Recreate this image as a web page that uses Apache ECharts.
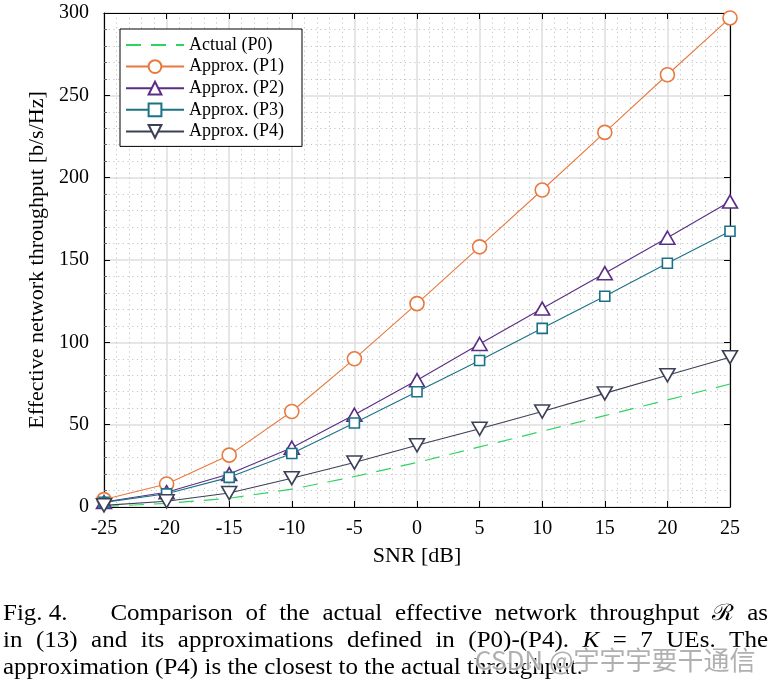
<!DOCTYPE html>
<html>
<head>
<meta charset="utf-8">
<script src="https://cdn.jsdelivr.net/npm/echarts@6/dist/echarts.min.js"></script>
<style>
html,body{margin:0;padding:0;background:#fff;}
#chart{width:773px;height:684px;}
</style>
</head>
<body>
<div id="chart"></div>
<script>
// ---- data ----
const snr = [-25, -20, -15, -10, -5, 0, 5, 10, 15, 20, 25];
const actualP0 = [0.3, 2.2, 5.3, 10.8, 18.5, 27, 36.5, 46, 55.5, 65, 74.7];
const approxP1 = [4.5, 14, 31.5, 58, 90, 123.5, 158, 192.5, 227.5, 262.5, 297];
const approxP2 = [3, 9, 20, 36, 56, 77, 99, 120.5, 142, 163.5, 185.5];
const approxP3 = [2.8, 8, 18, 32.5, 51, 70, 89, 108.5, 128, 148, 167.5];
const approxP4 = [1, 3.5, 8.5, 17.5, 27, 37.5, 47.5, 58, 69, 80, 91];
const seriesNames = ['Actual (P0)', 'Approx. (P1)', 'Approx. (P2)', 'Approx. (P3)', 'Approx. (P4)'];
const xTicks = [-25, -20, -15, -10, -5, 0, 5, 10, 15, 20, 25];
const yTicks = [0, 50, 100, 150, 200, 250, 300];
const xTitle = 'SNR [dB]';
const yTitle = 'Effective network throughput [b/s/Hz]';
const captionLines = [
  ['Fig. 4.', 'Comparison', 'of', 'the', 'actual', 'effective', 'network', 'throughput', '\u211B', 'as'],
  ['in', '(13)', 'and', 'its', 'approximations', 'defined', 'in', '(P0)-(P4).', 'K', '=', '7', 'UEs.', 'The'],
  ['approximation', '(P4)', 'is', 'the', 'closest', 'to', 'the', 'actual', 'throughput.']
];
const watermark = 'CSDN @宇宇宇要干通信';

// ---- chart ----
const FONT = '"Liberation Serif", "Times New Roman", serif';
const pair = (ys) => snr.map((x, i) => [x, ys[i]]);
const colors = ['#2fd35f', '#e8793f', '#5a2e85', '#1b7286', '#3b4056'];

const chart = echarts.init(document.getElementById('chart'), null, {renderer: 'canvas'});

// caption layout via text measurement (justified)
const cv = document.createElement('canvas').getContext('2d');
const capSize = 22.5;
const graphics = [];
const L = 3, R = 768;
const lineY = [614, 641, 668];
const fontOf = w => (w === 'K' ? 'italic ' : '') + capSize + 'px ' + FONT;
const measure = w => { cv.font = fontOf(w); return cv.measureText(w).width; };
cv.font = capSize + 'px ' + FONT;
const spaceW = cv.measureText(' ').width;
const l3 = captionLines[2];
const l3w = l3.reduce((a, w) => a + measure(w), 0) + spaceW * (l3.length - 1);
const sx = 580 / l3w;
captionLines.forEach((words, li) => {
  const widths = words.map(w => measure(w) * sx);
  const total = widths.reduce((a, b) => a + b, 0);
  const extra = li === 0 ? 30 : 0; // quad after "Fig. 4."
  let gap;
  if (li < 2) gap = (R - L - total - extra) / (words.length - 1);
  else gap = spaceW * sx;
  let x = L;
  words.forEach((w, i) => {
    graphics.push({
      type: 'text', x: x, y: lineY[li], scaleX: sx, z: 10,
      style: {text: w, font: fontOf(w), fill: '#000', textVerticalAlign: 'middle'}
    });
    x += widths[i] + gap + (i === 0 ? extra : 0);
  });
});
graphics.push({
  type: 'text', left: 474, top: 646, z: 20,
  style: {text: watermark, font: '26px "Noto Sans CJK SC", sans-serif', fill: 'rgba(150,150,150,0.75)',
          stroke: 'rgba(255,255,255,0.8)', lineWidth: 2}
});

const axisLabelStyle = {fontFamily: FONT, fontSize: 20, color: '#000'};
const minorLine = {color: '#c4c4c4', type: [1.2, 3.5], width: 1};
const option = {
  backgroundColor: '#fff',
  animation: false,
  grid: {left: 104, right: 43, top: 13, bottom: 177, containLabel: false},
  legend: {
    orient: 'vertical', left: 120, top: 29,
    backgroundColor: '#fff', borderColor: '#000', borderWidth: 1,
    padding: [7, 18, 6, 5],
    itemWidth: 58, itemHeight: 16, itemGap: 3.6,
    textStyle: {fontFamily: FONT, fontSize: 18, color: '#000', lineHeight: 16},
    data: [
      {name: seriesNames[0], itemStyle: {color: 'rgba(0,0,0,0)', borderColor: 'rgba(0,0,0,0)', opacity: 0}},
      seriesNames[1], seriesNames[2], seriesNames[3], seriesNames[4]
    ]
  },
  xAxis: [{
    type: 'value', min: -25, max: 25, interval: 5,
    name: xTitle, nameLocation: 'middle', nameGap: 38,
    nameTextStyle: {fontFamily: FONT, fontSize: 22, color: '#000'},
    axisLine: {show: true, onZero: false, lineStyle: {color: '#000', width: 1.2}},
    axisTick: {show: true, inside: true, length: 6, lineStyle: {color: '#000'}},
    minorTick: {show: false},
    axisLabel: Object.assign({margin: 12, formatter: v => xTicks.includes(v) ? String(v) : ''}, axisLabelStyle),
    splitLine: {show: true, lineStyle: {color: '#dedede', width: 1.5}},
    minorSplitLine: {show: true, lineStyle: minorLine}
  }, {
    type: 'value', min: -25, max: 25, interval: 5, position: 'top',
    axisLine: {show: true, onZero: false, lineStyle: {color: '#000', width: 1.2}},
    axisTick: {show: true, inside: true, length: 6, lineStyle: {color: '#000'}},
    axisLabel: {show: false}, splitLine: {show: false}
  }],
  yAxis: [{
    type: 'value', min: 0, max: 300, interval: 50,
    name: yTitle, nameLocation: 'middle', nameGap: 46,
    nameTextStyle: {fontFamily: FONT, fontSize: 22, color: '#000'},
    axisLine: {show: true, onZero: false, lineStyle: {color: '#000', width: 1.2}},
    axisTick: {show: true, inside: true, length: 6, lineStyle: {color: '#000'}},
    minorTick: {show: true, splitNumber: 5, length: 3, lineStyle: {color: '#666'}},
    axisLabel: Object.assign({margin: 15, formatter: v => yTicks.includes(v) ? String(v) : ''}, axisLabelStyle),
    splitLine: {show: true, lineStyle: {color: '#dedede', width: 1.5}},
    minorSplitLine: {show: true, lineStyle: minorLine}
  }, {
    type: 'value', min: 0, max: 300, interval: 50, position: 'right',
    axisLine: {show: true, onZero: false, lineStyle: {color: '#000', width: 1.2}},
    axisTick: {show: true, inside: true, length: 6, lineStyle: {color: '#000'}},
    axisLabel: {show: false}, splitLine: {show: false}
  }],
  series: [
    {name: seriesNames[0], type: 'line', data: pair(actualP0), showSymbol: false, symbol: 'circle',
     lineStyle: {color: colors[0], width: 1.2, type: [15, 10]}, itemStyle: {color: colors[0]}, z: 2},
    {name: seriesNames[1], type: 'line', data: pair(approxP1), symbol: 'circle', symbolSize: 14,
     lineStyle: {color: colors[1], width: 1.1}, itemStyle: {color: '#fff', borderColor: colors[1], borderWidth: 1.6}, z: 3},
    {name: seriesNames[2], type: 'line', data: pair(approxP2), symbol: 'triangle', symbolSize: [15, 13],
     lineStyle: {color: colors[2], width: 1.1}, itemStyle: {color: '#fff', borderColor: colors[2], borderWidth: 1.6}, z: 4},
    {name: seriesNames[3], type: 'line', data: pair(approxP3), symbol: 'rect', symbolSize: 10,
     lineStyle: {color: colors[3], width: 1.1}, itemStyle: {color: '#fff', borderColor: colors[3], borderWidth: 1.6}, z: 5},
    {name: seriesNames[4], type: 'line', data: pair(approxP4), symbol: 'triangle', symbolRotate: 180, symbolSize: [15, 13],
     lineStyle: {color: colors[4], width: 1.1}, itemStyle: {color: '#fff', borderColor: colors[4], borderWidth: 1.6}, z: 6}
  ],
  graphic: graphics
};
chart.setOption(option);
</script>
</body>
</html>
